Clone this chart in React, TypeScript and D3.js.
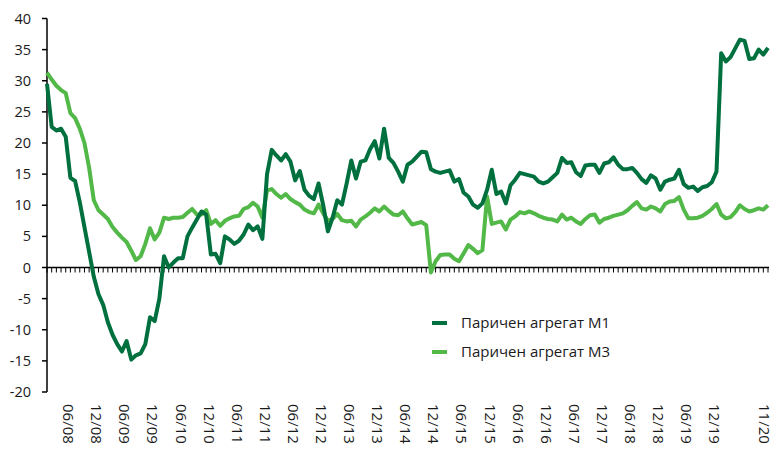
import React from 'react'
import * as d3 from 'd3'

// monthly, 01/08 .. 11/20
const months = d3.timeMonth.range(new Date(2008, 0, 1), new Date(2020, 11, 1)).map(d3.timeFormat('%m/%y'))

const m1 = [
  29.5, 22.6, 22.0, 22.3, 21.0, 14.4, 13.9, 10.5, 6.5, 2.5, -1.5, -4.3,
  -6.0, -8.8, -10.8, -12.3, -13.5, -11.8, -14.8, -14.1, -13.8, -12.3, -8.0, -8.6,
  -5.0, 1.8, 0.0, 0.8, 1.5, 1.5, 5.0, 6.4, 7.7, 9.0, 8.5, 2.1,
  2.2, 0.7, 5.0, 4.5, 3.8, 4.3, 5.3, 6.9, 6.0, 6.6, 4.6, 15.0,
  18.9, 18.0, 17.2, 18.2, 17.0, 14.0, 15.5, 12.5, 11.5, 11.0, 13.5, 10.0,
  5.8, 8.0, 10.8, 10.1, 13.5, 17.2, 14.3, 17.0, 17.2, 19.0, 20.3, 17.5,
  22.3, 17.6, 16.8, 15.4, 13.8, 16.5, 17.0, 17.8, 18.6, 18.5, 15.8, 15.4,
  15.2, 15.4, 15.6, 13.8, 14.2, 12.0, 11.4, 10.1, 9.6, 10.3, 12.5, 15.7,
  11.8, 12.2, 10.3, 13.2, 14.1, 15.2, 15.0, 14.8, 14.6, 13.8, 13.5, 13.8,
  14.5, 15.2, 17.6, 16.8, 16.9, 15.3, 14.7, 16.4, 16.5, 16.5, 15.2, 16.7,
  16.9, 17.7, 16.5, 15.8, 15.8, 16.0, 15.2, 14.2, 13.6, 14.8, 14.3, 12.5,
  13.8, 14.1, 14.3, 15.7, 13.4, 12.8, 13.0, 12.3, 12.9, 13.1, 13.7, 15.4,
  34.4, 33.1, 33.8, 35.2, 36.6, 36.4, 33.5, 33.6, 35.0, 34.2, 35.3,
]

const m3 = [
  31.3, 30.2, 29.2, 28.5, 28.0, 24.8, 24.0, 22.3, 20.0, 16.0, 10.8, 9.2,
  8.5, 7.8, 6.5, 5.6, 4.8, 4.1, 2.7, 1.2, 1.8, 3.8, 6.3, 4.5,
  5.6, 8.0, 7.8, 8.0, 8.0, 8.1, 8.8, 9.4, 8.5, 8.5, 9.2, 7.0,
  7.6, 6.7, 7.5, 7.9, 8.2, 8.3, 9.4, 9.7, 10.4, 9.8, 8.0, 12.4,
  12.6, 11.8, 11.2, 11.8, 11.0, 10.5, 10.1, 9.3, 8.9, 8.7, 10.1, 8.7,
  7.5, 7.8, 8.6, 7.6, 7.4, 7.5, 6.6, 7.7, 8.2, 8.8, 9.5, 9.0,
  9.8, 9.1, 8.5, 8.4, 9.0, 7.9, 6.9, 7.1, 7.3, 6.8, -0.8, 1.0,
  2.0, 2.1, 2.1, 1.4, 1.0, 2.3, 3.6, 3.0, 2.3, 2.8, 11.4, 7.0,
  7.2, 7.4, 6.1, 7.7, 8.2, 8.9, 8.7, 9.0, 8.7, 8.3, 8.0, 7.8,
  7.7, 7.4, 8.5, 7.7, 8.0, 7.4, 7.0, 7.8, 8.4, 8.5, 7.2, 7.8,
  8.0, 8.3, 8.5, 8.7, 9.2, 9.9, 10.5, 9.5, 9.3, 9.8, 9.5, 9.0,
  10.2, 10.6, 10.7, 11.3, 9.3, 7.9, 7.9, 8.0, 8.3, 8.8, 9.4, 10.2,
  8.5, 7.9, 8.1, 8.9, 10.0, 9.4, 9.0, 9.2, 9.5, 9.3, 10.0,
]

const xLabels = [
  '06/08', '12/08', '06/09', '12/09', '06/10', '12/10', '06/11', '12/11',
  '06/12', '12/12', '06/13', '12/13', '06/14', '12/14', '06/15', '12/15',
  '06/16', '12/16', '06/17', '12/17', '06/18', '12/18', '06/19', '12/19', '11/20',
]
const yTicks = [-20, -15, -10, -5, 0, 5, 10, 15, 20, 25, 30, 35, 40]

const series = [
  { name: 'Паричен агрегат M1', values: m1, color: '#00703f' },
  { name: 'Паричен агрегат M3', values: m3, color: '#52b848' },
]

const font = "'Open Sans', sans-serif"

export default function App() {
  const width = 774
  const height = 450
  const x = d3.scalePoint<string>().domain(months).range([47, 768])
  const y = d3.scaleLinear().domain([-20, 40]).range([392, 18.5])
  const line = d3.line<number>()
    .x((_, i) => x(months[i]) as number)
    .y(d => y(d))

  return (
    <svg width={width} height={height} style={{ position: 'absolute', left: 0, top: 0, background: '#fff' }}>
      {/* y axis */}
      <line x1={47} x2={47} y1={y(40)} y2={y(-20)} stroke="#000" strokeWidth={1.5} />
      {yTicks.map(t => (
        <g key={t}>
          <line x1={42} x2={47} y1={y(t)} y2={y(t)} stroke="#000" strokeWidth={1.5} />
          <text x={31} y={y(t)} dy="0.35em" textAnchor="end" fontFamily={font} fontSize={14.5} fill="#1a1a1a">{t}</text>
        </g>
      ))}

      {/* category axis at zero */}
      <line x1={47} x2={769} y1={y(0)} y2={y(0)} stroke="#000" strokeWidth={1.5} />
      {months.map(m => (
        <line key={m} x1={x(m)} x2={x(m)} y1={y(0)} y2={y(0) + 5} stroke="#000" strokeWidth={1} />
      ))}
      {xLabels.map(l => {
        // keep the last label inside the picture
        const px = Math.min((x(l) as number) - 2, 764)
        return (
          <text key={l} transform={`translate(${px},404) rotate(90)`} dy="0.35em" fontFamily={font} fontSize={15} fill="#1a1a1a">{l}</text>
        )
      })}

      {/* lines, M3 under M1 */}
      {[...series].reverse().map(s => (
        <path key={s.name} d={line(s.values) || ''} fill="none" stroke={s.color} strokeWidth={4} strokeLinejoin="round" />
      ))}

      {/* legend */}
      {series.map((s, i) => (
        <g key={s.name} transform={`translate(432,${323 + i * 29})`}>
          <line x1={0} x2={15} y1={0} y2={0} stroke={s.color} strokeWidth={4} />
          <text x={29} y={0} dy="0.35em" fontFamily={font} fontSize={15} fill="#1a1a1a">{s.name}</text>
        </g>
      ))}
    </svg>
  )
}
